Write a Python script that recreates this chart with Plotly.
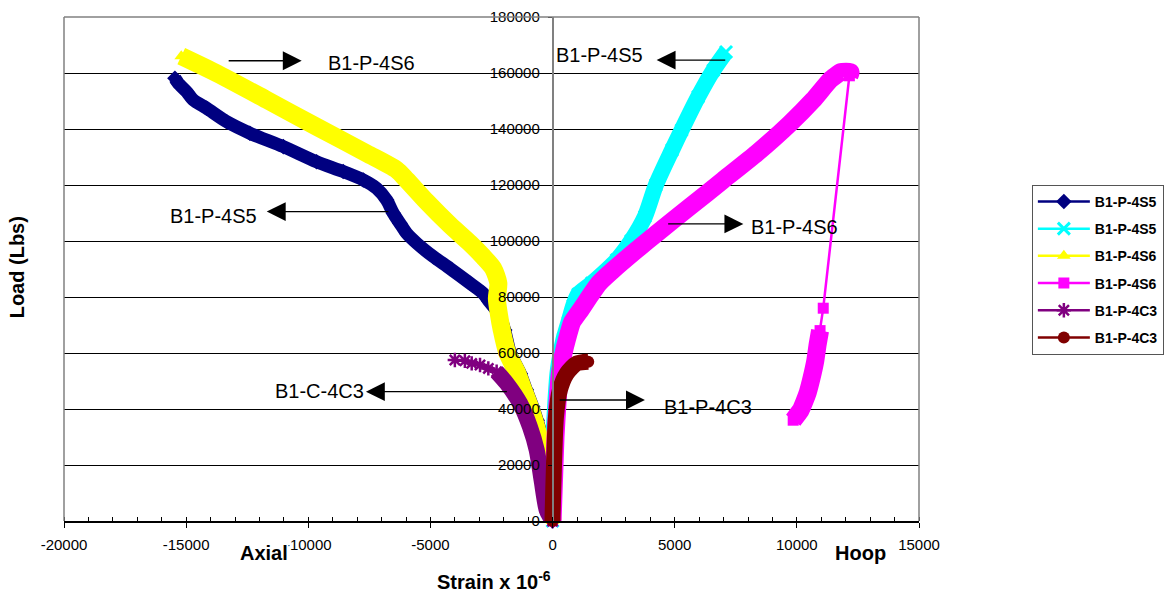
import plotly.graph_objects as go

# Strain readings (x 10^-6) and applied load (lbs) for each gauge
s5_axial_strain = [0, -30, -190, -400, -630, -810, -1080, -1320, -1730, -1960, -2200, -2600, -2840,
                   -3380, -4200, -4880, -5560, -5970, -6250, -6520, -6790, -7200, -7750, -8570,
                   -9660, -11020, -12390, -13340, -14160, -14710, -14980, -15320, -15460]
s5_axial_load = [0, 10000, 21800, 28900, 36000, 40800, 47000, 52700, 60000, 68200, 74000, 78500, 81300,
                 84900, 90200, 94400, 99200, 102700, 106300, 109900, 114600, 118800, 121800, 124800,
                 128300, 133700, 138500, 142600, 147400, 150400, 153300, 156300, 158100]

s5_hoop_strain = [0, 0, 40, 110, 200, 330, 450, 650, 850, 1050, 1600, 2620, 3210, 3780, 4230, 4890,
                  5280, 5960, 6580, 7100]
s5_hoop_load = [0, 15000, 30000, 42000, 52700, 60000, 65000, 71000, 77000, 81000, 84900, 93200, 100000,
                108700, 120000, 132500, 139600, 151500, 161000, 167500]

s6_axial_strain = [0, -120, -310, -520, -750, -930, -1200, -1440, -1850, -2080, -2200, -2280, -2220,
                   -2430, -2840, -3380, -4200, -5150, -5970, -6380, -7610, -9660, -11700, -13750, -15200]
s6_axial_load = [0, 10000, 21800, 28900, 36000, 40800, 47000, 52700, 60000, 68200, 74000, 79500, 84900,
                 90200, 94400, 99200, 105700, 114000, 121800, 125400, 131300, 140800, 150400, 159900, 166000]

s6_hoop_strain = [0, 60, 120, 200, 300, 450, 580, 800, 1150, 1500, 1900, 2500, 3440, 4260, 5620, 6990,
                  8350, 9720, 10670, 11360, 11800, 12200, 12150, 11080, 10950, 10850, 10750, 10600,
                  10450, 10300, 10150, 9850]
s6_hoop_load = [0, 15000, 30000, 42000, 52700, 60000, 64600, 71000, 75400, 80000, 84900, 89800, 96800,
                102700, 112200, 121800, 131300, 142000, 150400, 157500, 160300, 160300, 159000, 76000,
                68000, 63000, 57000, 51000, 46000, 42500, 39500, 36000]

c3_axial_strain = [0, -240, -450, -650, -930, -1330, -1880, -2290, -2630, -2970, -3310, -3590, -4000]
c3_axial_load = [0, 3900, 14600, 25400, 33700, 42000, 49200, 53300, 54500, 55700, 56300, 57200, 57500]

c3_hoop_strain = [0, 0, 60, 140, 300, 580, 990, 1460]
c3_hoop_load = [0, 1500, 20600, 37300, 46800, 52700, 56300, 56900]

x_tick_vals = [-20000, -15000, -10000, -5000, 0, 5000, 10000, 15000]
x_tick_text = ["-20000", "-15000", "-10000", "-5000", "0", "5000", "10000", "15000"]
y_tick_vals = [0, 20000, 40000, 60000, 80000, 100000, 120000, 140000, 160000, 180000]
y_tick_text = ["0", "20000", "40000", "60000", "80000", "100000", "120000", "140000", "160000", "180000"]

FONT = "Liberation Sans, Arial, sans-serif"

series = [
    dict(name="B1-P-4S5", x=s5_axial_strain, y=s5_axial_load, color="#000080",
         marker=dict(symbol="diamond", size=12), band=13, runs=[(0, None)], smooth=0.7),
    dict(name="B1-P-4S5", x=s5_hoop_strain, y=s5_hoop_load, color="#00FFFF",
         marker=dict(symbol="x-thin-open", size=12, line=dict(width=3, color="#00FFFF")),
         band=16, runs=[(0, None)], smooth=0.7),
    dict(name="B1-P-4S6", x=s6_axial_strain, y=s6_axial_load, color="#FFFF00",
         marker=dict(symbol="triangle-up", size=12), band=18, runs=[(0, None)], smooth=0.7),
    dict(name="B1-P-4S6", x=s6_hoop_strain, y=s6_hoop_load, color="#FF00FF",
         marker=dict(symbol="square", size=11), band=18, runs=[(0, 23), (24, None)], smooth=0.35),
    dict(name="B1-P-4C3", x=c3_axial_strain, y=c3_axial_load, color="#800080",
         marker=dict(symbol="asterisk-open", size=12, line=dict(width=2.5, color="#800080")),
         band=16, runs=[(0, 8)], smooth=0.7),
    dict(name="B1-P-4C3", x=c3_hoop_strain, y=c3_hoop_load, color="#800000",
         marker=dict(symbol="circle", size=12), band=16, runs=[(0, None)], smooth=0.7),
]

fig = go.Figure()
for i, s in enumerate(series):
    # thick smoothed stroke under the markers reproduces the dense band of overlapping points
    bx, by = [], []
    for a, b in s["runs"]:
        bx += list(s["x"][a:b]) + [None]
        by += list(s["y"][a:b]) + [None]
    fig.add_trace(go.Scatter(
        x=bx, y=by, mode="lines", showlegend=False, hoverinfo="skip",
        line=dict(color=s["color"], width=s["band"], shape="spline", smoothing=s["smooth"]),
        cliponaxis=False, legendgroup=f"g{i}"))
    mk = dict(color=s["color"], **s["marker"])
    fig.add_trace(go.Scatter(
        x=s["x"], y=s["y"], mode="lines+markers", name=s["name"],
        line=dict(color=s["color"], width=2.5), marker=mk, cliponaxis=False,
        legendgroup=f"g{i}"))

# gauge call-outs: (label, label x, label y, arrow tail x, tail y, arrow tip x, tip y)
callouts = [
    ("B1-P-4S6", -9280, 163600, -13320, 164400, -10270, 164400),
    ("B1-P-4S5", -15740, 108900, -6660, 110500, -11700, 110500),
    ("B1-C-4C3", -11460, 46400, -1810, 46200, -7640, 46200),
    ("B1-P-4S5", 60, 166400, 7130, 164600, 4260, 164600),
    ("B1-P-4S6", 8040, 105000, 4670, 106100, 7810, 106100),
    ("B1-P-4C3", 4480, 40700, 230, 43200, 3780, 43200),
]
for label, lx, ly, tx, ty, hx, hy in callouts:
    fig.add_annotation(x=lx, y=ly, text=label, showarrow=False, xanchor="left", yanchor="middle",
                       font=dict(family=FONT, size=20, color="black"))
    fig.add_annotation(x=hx, y=hy, ax=tx, ay=ty, axref="x", ayref="y", text="", showarrow=True,
                       arrowhead=2, arrowsize=2.7, arrowwidth=1.4, arrowcolor="black", standoff=0)

# axis titles
title_font = dict(family=FONT, size=20, color="black")
fig.add_annotation(xref="paper", yref="paper", x=-0.054, y=0.503, text="<b>Load (Lbs)</b>",
                   textangle=-90, showarrow=False, xanchor="center", yanchor="middle", font=title_font)
fig.add_annotation(xref="paper", yref="paper", x=0.503, y=-0.119, text="<b>Strain x 10<sup>-6</sup></b>",
                   showarrow=False, xanchor="center", yanchor="middle", font=title_font)
fig.add_annotation(xref="paper", yref="paper", x=0.234, y=-0.064, text="<b>Axial</b>",
                   showarrow=False, xanchor="center", yanchor="middle", bgcolor="white", borderpad=0,
                   font=title_font)
fig.add_annotation(xref="paper", yref="paper", x=0.932, y=-0.064, text="<b>Hoop</b>",
                   showarrow=False, xanchor="center", yanchor="middle", font=title_font)

# plot-area frame (left, top, right)
for x0, y0, x1, y1 in [(0, 0, 0, 1), (0, 1, 1, 1), (1, 0, 1, 1)]:
    fig.add_shape(type="line", xref="paper", yref="paper", x0=x0, y0=y0, x1=x1, y1=y1,
                  line=dict(color="#808080", width=1.5), layer="above")

fig.update_layout(
    width=1173, height=595,
    margin=dict(l=64, r=254, t=17, b=74, autoexpand=False),
    paper_bgcolor="white", plot_bgcolor="white",
    font=dict(family=FONT, size=15, color="black"),
    xaxis=dict(
        range=[-20000, 15000], domain=[0, 1],
        tickmode="array", tickvals=x_tick_vals, ticktext=x_tick_text,
        ticks="outside", ticklen=5, tickwidth=1, tickcolor="black", ticklabelstandoff=4,
        minor=dict(dtick=1000, ticks="inside", ticklen=4, tickcolor="black", showgrid=False),
        showline=True, linecolor="black", linewidth=1.5,
        showgrid=False, zeroline=False,
        tickfont=dict(family=FONT, size=15, color="black"),
    ),
    yaxis=dict(
        range=[0, 180000], anchor="free", position=20000 / 35000, side="left",
        tickmode="array", tickvals=y_tick_vals, ticktext=y_tick_text,
        ticks="outside", ticklen=4, tickcolor="black", ticklabelstandoff=5,
        showline=True, linecolor="#808080", linewidth=1.5,
        showgrid=True, gridcolor="black", gridwidth=1, zeroline=False,
        tickfont=dict(family=FONT, size=15, color="black"),
    ),
    legend=dict(
        x=1.132, y=0.667, xanchor="left", yanchor="top",
        bgcolor="white", bordercolor="#555555", borderwidth=1,
        font=dict(family=FONT, size=14, color="black", weight="bold"),
        tracegroupgap=6, itemwidth=52,
    ),
    showlegend=True,
)

fig.write_html("out.html")
